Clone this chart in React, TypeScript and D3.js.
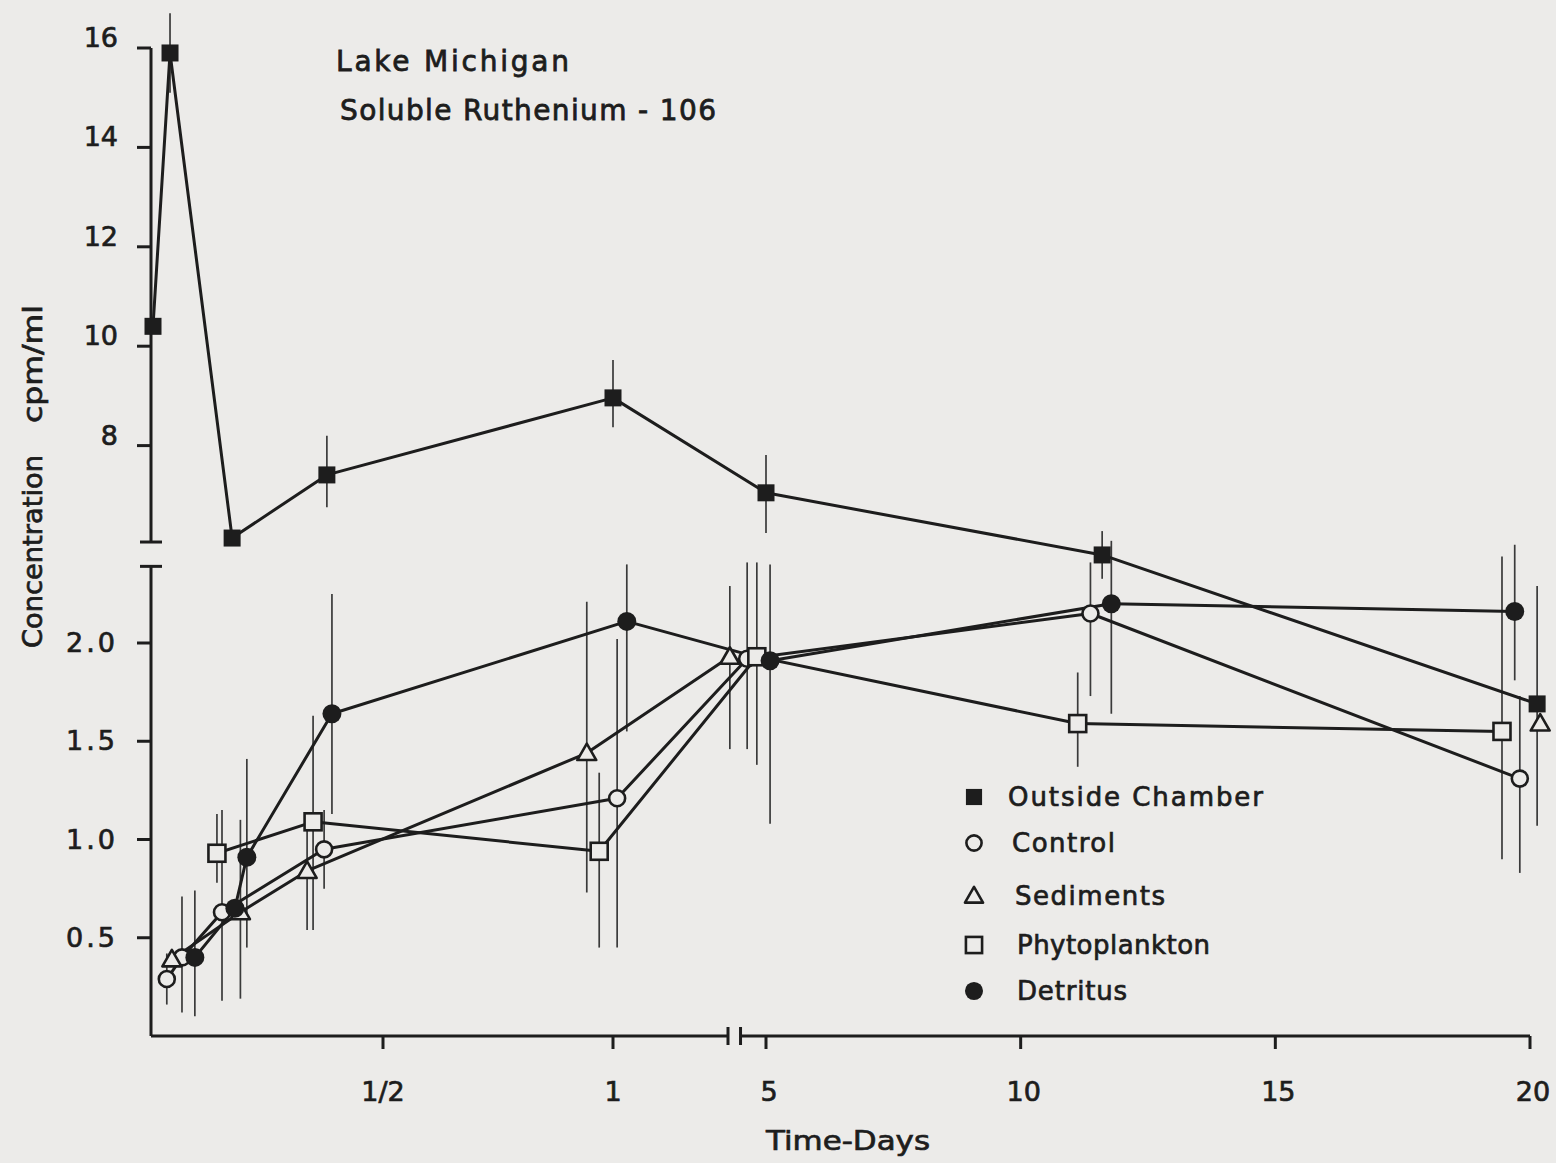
import React from "react";
import * as d3 from "d3";

const W = 1556;
const H = 1163;
const INK = "#1d1d1d";
const PAPER = "#ecebe9";
const FONT = "'DejaVu Sans', sans-serif";

// ---- data (time in days, concentration in cpm/ml) ----
const outsideDays = [0, 0.037, 0.172, 0.378, 1.0, 5.0, 11.6, 20.14];
const outsideVals = [10.4, 15.9, 6.14, 7.41, 8.96, 7.05, 5.8, 1.69];
const outsideLo = [null, 15.1, null, 6.76, 8.37, 6.24, 5.32, 1.07];
const outsideHi = [null, 16.7, null, 8.2, 9.72, 7.81, 6.28, 2.29];
const outsideLinked = [false, true, true, true, true, true, true, true];

const controlDays = [0.03, 0.063, 0.15, 0.372, 1.009, 4.63, 11.37, 19.8];
const controlVals = [0.29, 0.4, 0.63, 0.95, 1.21, 1.92, 2.15, 1.31];
const controlLo = [0.16, 0.12, 0.18, 0.75, 0.45, 1.46, 1.73, 0.83];
const controlHi = [0.42, 0.71, 1.15, 1.15, 2.02, 2.41, 2.41, 1.73];
const controlLinked = [false, true, true, true, true, true, true, true];

const sedDays = [0.041, 0.19, 0.335, 0.943, 4.29, 20.2];
const sedVals = [0.39, 0.63, 0.84, 1.44, 1.93, 1.59];
const sedLo = [null, 0.19, 0.54, 0.73, 1.46, null];
const sedHi = [null, 1.1, 1.12, 2.21, 2.29, null];
const sedLinked = [false, true, true, true, true, false];

const phytoDays = [0.139, 0.348, 0.97, 4.82, 11.12, 19.45];
const phytoVals = [0.93, 1.09, 0.94, 1.93, 1.59, 1.55];
const phytoLo = [0.78, 0.54, 0.45, 1.38, 1.37, 0.9];
const phytoHi = [1.13, 1.63, 1.34, 2.41, 1.85, 2.44];
const phytoLinked = [false, true, true, true, true, true];

const detDays = [0.091, 0.178, 0.204, 0.389, 1.03, 5.08, 11.78, 19.7];
const detVals = [0.4, 0.65, 0.91, 1.64, 2.11, 1.91, 2.2, 2.16];
const detLo = [0.1, null, 0.45, 1.13, 1.55, 1.08, 1.64, 1.81];
const detHi = [0.74, null, 1.41, 2.25, 2.4, 2.4, 2.52, 2.5];
const detLinked = [false, true, true, true, true, true, true, true];

const highTicks = [8, 10, 12, 14, 16];
const lowTicks = [0.5, 1.0, 1.5, 2.0];
const lowTickLabels = ["0.5", "1.0", "1.5", "2.0"];
const earlyTicks = [0.5, 1];
const earlyTickLabels = ["1/2", "1"];
const lateTicks = [5, 10, 15, 20];

// ---- broken scales ----
const xEarly = d3.scaleLinear().domain([0, 1]).range([153, 613]);
const xLate = d3.scaleLinear().domain([5, 20]).range([766, 1530]);
const xPos = (t: number) => (t < 2.5 ? xEarly(t) : xLate(t));

const yHigh = d3.scaleLinear().domain([6, 16]).range([545, 48]);
const yLow = d3.scaleLinear().domain([0, 2]).range([1036, 643]);
const yPos = (v: number) => (v >= 4 ? yHigh(v) : yLow(v));

const axisX = 151;
const axisY = yLow(0);

const series = [
  { name: "Outside Chamber", shape: "fsquare", days: outsideDays, vals: outsideVals, lo: outsideLo, hi: outsideHi, linked: outsideLinked, text: [1008, 255] },
  { name: "Control", shape: "circle", days: controlDays, vals: controlVals, lo: controlLo, hi: controlHi, linked: controlLinked, text: [1012, 103] },
  { name: "Sediments", shape: "triangle", days: sedDays, vals: sedVals, lo: sedLo, hi: sedHi, linked: sedLinked, text: [1015, 150] },
  { name: "Phytoplankton", shape: "square", days: phytoDays, vals: phytoVals, lo: phytoLo, hi: phytoHi, linked: phytoLinked, text: [1017, 193] },
  { name: "Detritus", shape: "fcircle", days: detDays, vals: detVals, lo: detLo, hi: detHi, linked: detLinked, text: [1017, 110] },
];
const legendRows = [797, 843, 896, 945, 991];

function Marker({ shape, x, y, s = 1 }: { shape: string; x: number; y: number; s?: number }) {
  if (shape === "fsquare")
    return <rect x={x - 8.5 * s} y={y - 8.5 * s} width={17 * s} height={17 * s} fill={INK} />;
  if (shape === "square")
    return <rect x={x - 8.5 * s} y={y - 8.5 * s} width={17 * s} height={17 * s} fill={PAPER} stroke={INK} strokeWidth={2.6} />;
  if (shape === "circle")
    return <circle cx={x} cy={y} r={8 * s} fill={PAPER} stroke={INK} strokeWidth={2.6} />;
  if (shape === "triangle") {
    const pts = [[x, y - 9.5 * s], [x - 9.5 * s, y + 7 * s], [x + 9.5 * s, y + 7 * s]];
    return <polygon points={pts.map(p => p.join(",")).join(" ")} fill={PAPER} stroke={INK} strokeWidth={2.6} strokeLinejoin="round" />;
  }
  return <circle cx={x} cy={y} r={9.5 * s} fill={INK} />;
}

export default function App() {
  const line = d3.line<[number, number]>();

  return (
    <svg width={W} height={H} style={{ position: "absolute", left: 0, top: 0 }} fontFamily={FONT}>
      <rect width={W} height={H} fill={PAPER} />

      {/* y axis, broken */}
      <g stroke={INK} strokeWidth={3} fill="none">
        <line x1={axisX} x2={axisX} y1={yHigh(16)} y2={yHigh(6.06)} />
        <line x1={axisX - 11} x2={axisX + 11} y1={yHigh(6.06)} y2={yHigh(6.06)} />
        <line x1={axisX} x2={axisX} y1={yLow(2.39)} y2={axisY} />
        <line x1={axisX - 11} x2={axisX + 11} y1={yLow(2.39)} y2={yLow(2.39)} />
        {highTicks.map(t => (
          <line key={"h" + t} x1={axisX - 14} x2={axisX} y1={yHigh(t)} y2={yHigh(t)} />
        ))}
        {lowTicks.map(t => (
          <line key={"l" + t} x1={axisX - 14} x2={axisX} y1={yLow(t)} y2={yLow(t)} />
        ))}
      </g>
      <g fill={INK} stroke={INK} strokeWidth={0.7} fontSize={27} textAnchor="end">
        {highTicks.map(t => (
          <text key={"ht" + t} x={118} y={yHigh(t) - 1}>{t}</text>
        ))}
        {lowTicks.map((t, i) => (
          <text key={"lt" + t} x={118} y={yLow(t) + 9} letterSpacing={3}>{lowTickLabels[i]}</text>
        ))}
      </g>
      <g fill={INK} stroke={INK} strokeWidth={0.7} fontSize={26}>
        <text transform="translate(42,648) rotate(-90)" textLength={193} lengthAdjust="spacingAndGlyphs">Concentration</text>
        <text transform="translate(42,423) rotate(-90)" textLength={118} lengthAdjust="spacingAndGlyphs">cpm/ml</text>
      </g>

      {/* x axis, broken */}
      <g stroke={INK} strokeWidth={3} fill="none">
        <line x1={axisX} x2={xEarly(1.25)} y1={axisY} y2={axisY} />
        <line x1={xEarly(1.25)} x2={xEarly(1.25)} y1={axisY - 9} y2={axisY + 9} />
        <line x1={xLate(4.5)} x2={xLate(20)} y1={axisY} y2={axisY} />
        <line x1={xLate(4.5)} x2={xLate(4.5)} y1={axisY - 9} y2={axisY + 9} />
        {earlyTicks.map(t => (
          <line key={"e" + t} x1={xEarly(t)} x2={xEarly(t)} y1={axisY} y2={axisY + 13} />
        ))}
        {lateTicks.map(t => (
          <line key={"d" + t} x1={xLate(t)} x2={xLate(t)} y1={axisY} y2={axisY + 13} />
        ))}
      </g>
      <g fill={INK} stroke={INK} strokeWidth={0.7} fontSize={27} textAnchor="middle">
        {earlyTicks.map((t, i) => (
          <text key={"et" + t} x={xEarly(t)} y={1101}>{earlyTickLabels[i]}</text>
        ))}
        {lateTicks.map(t => (
          <text key={"dt" + t} x={xLate(t) + 3} y={1101}>{t}</text>
        ))}
        <text x={848} y={1150} fontSize={27} textLength={164} lengthAdjust="spacingAndGlyphs">Time-Days</text>
      </g>

      {/* title */}
      <g fill={INK} stroke={INK} strokeWidth={0.8} fontSize={28}>
        <text x={336} y={71} textLength={233} lengthAdjust="spacing">Lake Michigan</text>
        <text x={340} y={120} textLength={376} lengthAdjust="spacing">Soluble Ruthenium - 106</text>
      </g>

      {/* error bars */}
      <g stroke="#3a3a3a" strokeWidth={1.7}>
        {series.map(s =>
          s.days.map((d, i) =>
            s.lo[i] == null ? null : (
              <line key={s.name + "e" + i} x1={xPos(d)} x2={xPos(d)} y1={yPos(s.hi[i] as number)} y2={yPos(s.lo[i] as number)} />
            )
          )
        )}
      </g>

      {/* connecting lines */}
      <g stroke={INK} strokeWidth={3} fill="none" strokeLinecap="round">
        {series.map(s =>
          s.days.map((d, i) =>
            !s.linked[i] ? null : (
              <path
                key={s.name + "l" + i}
                d={line([
                  [xPos(s.days[i - 1]), yPos(s.vals[i - 1])],
                  [xPos(d), yPos(s.vals[i])],
                ]) as string}
              />
            )
          )
        )}
      </g>

      {/* markers */}
      {series.map(s =>
        s.days.map((d, i) => (
          <Marker key={s.name + "m" + i} shape={s.shape} x={xPos(d)} y={yPos(s.vals[i])} />
        ))
      )}

      {/* legend */}
      {series.map((s, i) => (
        <g key={"lg" + s.name}>
          <Marker shape={s.shape} x={974} y={legendRows[i]} s={s.shape === "fsquare" ? 0.95 : 0.95} />
          <text x={s.text[0]} y={legendRows[i] + 9} fontSize={26} fill={INK} stroke={INK} strokeWidth={0.7} textLength={s.text[1]} lengthAdjust="spacing">
            {s.name}
          </text>
        </g>
      ))}
    </svg>
  );
}
